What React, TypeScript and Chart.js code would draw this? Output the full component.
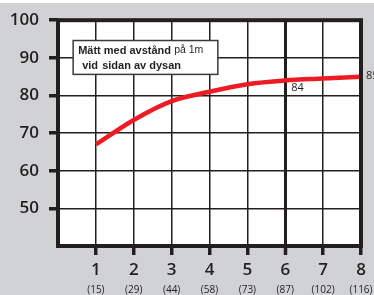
import React, { useEffect, useRef } from 'react';
import { Chart, registerables } from 'chart.js';

Chart.register(...registerables);

// ---- data ----
const xValues = [1, 2, 3, 4, 5, 6, 7, 8];
const xTickLabels = ['1', '2', '3', '4', '5', '6', '7', '8'];
const xSubLabels = ['(15)', '(29)', '(44)', '(58)', '(73)', '(87)', '(102)', '(116)'];
const soundLevels = [67, 73.5, 78.5, 81, 83, 84, 84.5, 85];
const yTickValues = [50, 60, 70, 80, 90, 100];
const labeledPoints = [5, 7]; // indices that carry a value label
const noteLine1 = ['Mätt med avstånd', 'på 1m'];
const noteLine2 = ['vid', 'sidan av dysan'];

const INK = '#231f20';
const GRAY = '#d1d2d4';
const RED = '#ed1c24';
const FONT = "'Open Sans', 'DejaVu Sans', sans-serif";

const decorPlugin = {
  id: 'decor',
  beforeDraw(chart: any) {
    const { ctx, width, height, chartArea: a } = chart;
    ctx.save();
    ctx.fillStyle = '#ffffff';
    ctx.fillRect(0, 0, width, height);
    ctx.fillStyle = GRAY;
    ctx.fillRect(0, 3, width, height - 3);
    ctx.fillStyle = '#ffffff';
    ctx.fillRect(a.left, a.top, a.right - a.left, a.bottom - a.top);
    ctx.restore();
  },
  afterDatasetsDraw(chart: any) {
    const { ctx, chartArea: a } = chart;
    ctx.save();
    ctx.strokeStyle = INK;
    ctx.lineWidth = 4;
    ctx.strokeRect(a.left, a.top, a.right - a.left, a.bottom - a.top);
    ctx.restore();
  },
  afterDraw(chart: any) {
    const { ctx } = chart;
    const xs = chart.scales.x;
    const ys = chart.scales.y;
    ctx.save();
    // sub labels under the x ticks
    ctx.fillStyle = INK;
    ctx.font = `10px ${FONT}`;
    ctx.textAlign = 'center';
    ctx.textBaseline = 'middle';
    xValues.forEach((v, i) => {
      ctx.fillText(xSubLabels[i], xs.getPixelForValue(v), 290);
    });

    // point value labels
    ctx.font = `11px ${FONT}`;
    ctx.textAlign = 'left';
    labeledPoints.forEach((i, k) => {
      const px = xs.getPixelForValue(xValues[i]);
      const py = ys.getPixelForValue(soundLevels[i]);
      if (k === 0) ctx.fillText(String(soundLevels[i]), px + 6, py + 7);
      else ctx.fillText(String(soundLevels[i]), px + 5, py - 1);
    });

    // note box
    const bl = xs.getPixelForValue(0.4);
    const br = xs.getPixelForValue(4.22);
    const bt = ys.getPixelForValue(94.6);
    const bb = ys.getPixelForValue(85.6);
    ctx.fillStyle = '#ffffff';
    ctx.fillRect(bl, bt, br - bl, bb - bt);
    ctx.strokeStyle = '#3a3a3a';
    ctx.lineWidth = 1.5;
    ctx.strokeRect(bl, bt, br - bl, bb - bt);
    ctx.fillStyle = INK;
    ctx.textBaseline = 'middle';
    ctx.font = `bold 11px 'Liberation Sans', Arial, sans-serif`;
    ctx.fillText(noteLine1[0], bl + 5, bt + 10);
    ctx.font = `10.5px 'Liberation Sans', Arial, sans-serif`;
    ctx.fillText(noteLine1[1], bl + 101, bt + 10);
    ctx.font = `bold 11px 'Liberation Sans', Arial, sans-serif`;
    ctx.fillText(noteLine2[0], bl + 9, bt + 25);
    ctx.fillText(noteLine2[1], bl + 29, bt + 25);
    ctx.restore();
  },
};

export default function App() {
  const canvasRef = useRef<HTMLCanvasElement | null>(null);

  useEffect(() => {
    if (!canvasRef.current) return;
    const chart = new Chart(canvasRef.current, {
      type: 'line',
      data: {
        datasets: [
          {
            data: xValues.map((x, i) => ({ x, y: soundLevels[i] })),
            borderColor: RED,
            borderWidth: 4.5,
            pointRadius: 0,
            cubicInterpolationMode: 'monotone',
            fill: false,
          },
        ],
      },
      options: {
        responsive: false,
        maintainAspectRatio: false,
        animation: false,
        layout: { padding: { top: 18.5, right: 13, left: 0, bottom: 0 } },
        plugins: { legend: { display: false }, tooltip: { enabled: false } },
        scales: {
          x: {
            type: 'linear',
            min: 0,
            max: 8,
            afterBuildTicks: (s: any) => {
              s.ticks = [0, ...xValues].map((v) => ({ value: v }));
            },
            afterFit: (s: any) => {
              s.height = 49;
            },
            ticks: {
              autoSkip: false,
              maxRotation: 0,
              padding: 5,
              color: INK,
              font: { family: FONT, size: 17, weight: '600' },
              callback: (v: any) => {
                const i = xValues.indexOf(Number(v));
                return i >= 0 ? xTickLabels[i] : '';
              },
            },
            grid: {
              color: INK,
              lineWidth: (c: any) => (c.tick && c.tick.value === 6 ? 3 : 1.5),
              tickLength: 9,
              tickWidth: 3.5,
              tickColor: (c: any) => (c.tick && c.tick.value === 0 ? 'rgba(0,0,0,0)' : INK),
            },
            border: { display: false },
          },
          y: {
            type: 'linear',
            min: 40,
            max: 100,
            afterBuildTicks: (s: any) => {
              s.ticks = [40, ...yTickValues].map((v) => ({ value: v }));
            },
            afterFit: (s: any) => {
              s.width = 58;
            },
            ticks: {
              padding: 10,
              color: INK,
              font: { family: FONT, size: 17, weight: '600' },
              callback: (v: any) => (yTickValues.includes(Number(v)) ? String(v) : ''),
            },
            grid: {
              color: INK,
              lineWidth: 1.5,
              tickLength: 9,
              tickWidth: 3.5,
              tickColor: (c: any) => (c.tick && c.tick.value === 40 ? 'rgba(0,0,0,0)' : INK),
            },
            border: { display: false },
          },
        },
      },
      plugins: [decorPlugin],
    } as any);
    return () => chart.destroy();
  }, []);

  return (
    <div style={{ position: 'fixed', left: 0, top: 0, width: 374, height: 295 }}>
      <canvas ref={canvasRef} width={374} height={295} style={{ display: 'block' }} />
    </div>
  );
}
